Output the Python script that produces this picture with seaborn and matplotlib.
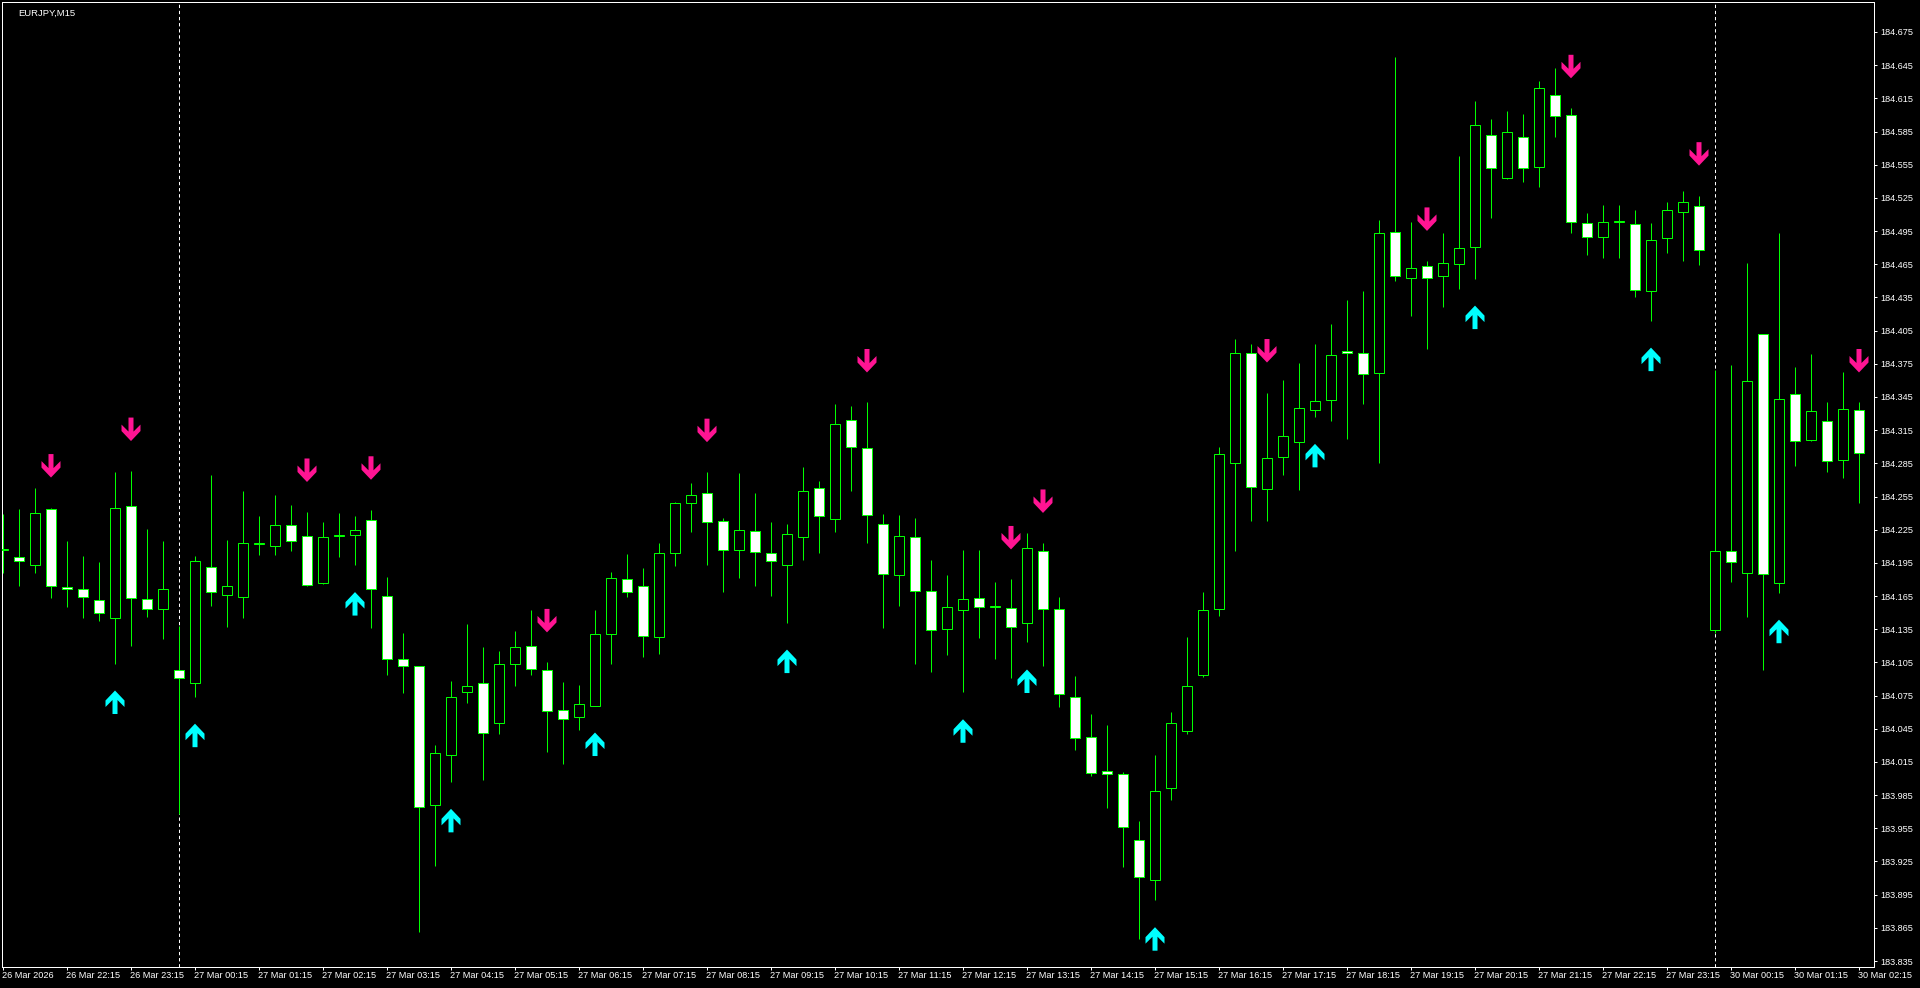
import numpy as np
import pandas as pd
import matplotlib
matplotlib.use("Agg")
import matplotlib.pyplot as plt
from matplotlib.path import Path
from matplotlib.markers import MarkerStyle
from matplotlib.transforms import ScaledTranslation
import seaborn as sns

# ---------------- data ----------------
symbol_label = "EURJPY,M15"

open_ = [184.207, 184.200, 184.193, 184.244, 184.173, 184.171, 184.161, 184.145, 184.246, 184.162,
         184.153, 184.098, 184.086, 184.191, 184.166, 184.164, 184.212, 184.210, 184.229, 184.219,
         184.177, 184.219, 184.220, 184.234, 184.165, 184.108, 184.102, 183.976, 184.021, 184.078,
         184.086, 184.050, 184.104, 184.120, 184.098, 184.062, 184.056, 184.066, 184.131, 184.180,
         184.174, 184.128, 184.204, 184.249, 184.258, 184.233, 184.207, 184.224, 184.204, 184.193,
         184.218, 184.263, 184.235, 184.324, 184.299, 184.230, 184.184, 184.218, 184.170, 184.135,
         184.152, 184.163, 184.155, 184.154, 184.141, 184.206, 184.153, 184.074, 184.038, 184.007,
         184.004, 183.944, 183.908, 183.991, 184.043, 184.094, 184.153, 184.285, 184.385, 184.262,
         184.291, 184.304, 184.333, 184.342, 184.387, 184.385, 184.367, 184.494, 184.453, 184.463,
         184.454, 184.465, 184.481, 184.582, 184.543, 184.580, 184.553, 184.618, 184.600, 184.502,
         184.490, 184.503, 184.501, 184.441, 184.489, 184.512, 184.518, 184.134, 184.206, 184.186,
         184.402, 184.177, 184.348, 184.306, 184.323, 184.288, 184.333]

high = [184.239, 184.244, 184.263, 184.245, 184.215, 184.201, 184.196, 184.277, 184.278, 184.226,
        184.215, 184.138, 184.201, 184.274, 184.216, 184.260, 184.237, 184.256, 184.247, 184.241,
        184.232, 184.240, 184.237, 184.243, 184.182, 184.132, 184.102, 184.030, 184.088, 184.140,
        184.119, 184.115, 184.133, 184.152, 184.105, 184.087, 184.085, 184.152, 184.187, 184.203,
        184.190, 184.213, 184.250, 184.267, 184.277, 184.236, 184.276, 184.258, 184.232, 184.230,
        184.282, 184.269, 184.339, 184.337, 184.340, 184.239, 184.238, 184.236, 184.198, 184.184,
        184.207, 184.207, 184.178, 184.180, 184.222, 184.213, 184.164, 184.093, 184.058, 184.048,
        184.006, 183.962, 184.021, 184.060, 184.128, 184.169, 184.300, 184.397, 184.393, 184.349,
        184.360, 184.376, 184.393, 184.411, 184.433, 184.441, 184.505, 184.652, 184.503, 184.468,
        184.493, 184.563, 184.613, 184.596, 184.604, 184.601, 184.631, 184.642, 184.606, 184.511,
        184.519, 184.519, 184.514, 184.502, 184.521, 184.531, 184.527, 184.369, 184.374, 184.466,
        184.402, 184.493, 184.372, 184.384, 184.340, 184.368, 184.340]

low = [184.186, 184.174, 184.186, 184.163, 184.155, 184.145, 184.142, 184.104, 184.120, 184.146,
       184.126, 183.968, 184.074, 184.156, 184.137, 184.145, 184.202, 184.202, 184.206, 184.174,
       184.176, 184.200, 184.193, 184.136, 184.094, 184.077, 183.861, 183.921, 183.997, 184.068,
       183.999, 184.040, 184.084, 184.094, 184.024, 184.013, 184.044, 184.066, 184.104, 184.164,
       184.110, 184.113, 184.192, 184.223, 184.193, 184.169, 184.181, 184.174, 184.165, 184.141,
       184.198, 184.204, 184.223, 184.260, 184.213, 184.136, 184.156, 184.104, 184.096, 184.112,
       184.078, 184.127, 184.108, 184.091, 184.123, 184.102, 184.065, 184.026, 184.002, 183.973,
       183.920, 183.855, 183.890, 183.981, 184.040, 184.092, 184.147, 184.206, 184.233, 184.233,
       184.274, 184.261, 184.327, 184.323, 184.307, 184.339, 184.285, 184.450, 184.418, 184.388,
       184.426, 184.443, 184.452, 184.507, 184.542, 184.539, 184.535, 184.580, 184.493, 184.473,
       184.471, 184.471, 184.435, 184.414, 184.475, 184.468, 184.464, 184.132, 184.178, 184.146,
       184.098, 184.168, 184.283, 184.305, 184.277, 184.272, 184.249]

close = [184.207, 184.197, 184.240, 184.174, 184.171, 184.164, 184.150, 184.245, 184.163, 184.153,
         184.171, 184.091, 184.197, 184.169, 184.174, 184.213, 184.212, 184.229, 184.215, 184.175,
         184.218, 184.219, 184.225, 184.171, 184.108, 184.102, 183.974, 184.023, 184.074, 184.084,
         184.041, 184.104, 184.119, 184.099, 184.061, 184.054, 184.067, 184.131, 184.181, 184.169,
         184.129, 184.204, 184.249, 184.256, 184.232, 184.207, 184.225, 184.205, 184.197, 184.221,
         184.260, 184.237, 184.321, 184.300, 184.238, 184.185, 184.219, 184.170, 184.134, 184.155,
         184.162, 184.155, 184.155, 184.137, 184.208, 184.153, 184.076, 184.037, 184.005, 184.004,
         183.956, 183.911, 183.989, 184.050, 184.084, 184.152, 184.293, 184.385, 184.264, 184.290,
         184.310, 184.335, 184.341, 184.383, 184.385, 184.366, 184.493, 184.454, 184.462, 184.453,
         184.466, 184.480, 184.591, 184.552, 184.585, 184.552, 184.624, 184.599, 184.503, 184.490,
         184.503, 184.503, 184.442, 184.487, 184.514, 184.521, 184.478, 184.206, 184.196, 184.359,
         184.185, 184.343, 184.305, 184.332, 184.287, 184.334, 184.294]

# bar indices carrying a sell (down) / buy (up) signal arrow
sell_signals = [3, 8, 19, 23, 34, 44, 54, 63, 65, 79, 89, 98, 106, 116]
buy_signals = [7, 12, 22, 28, 37, 49, 60, 64, 72, 82, 92, 103, 111]

# trading sessions (M15 bars)
session_starts = ["2026-03-26 21:15", "2026-03-30 00:00"]
session_lengths = [107, 10]

x_tick_labels = ["26 Mar 2026", "26 Mar 22:15", "26 Mar 23:15", "27 Mar 00:15", "27 Mar 01:15",
                 "27 Mar 02:15", "27 Mar 03:15", "27 Mar 04:15", "27 Mar 05:15", "27 Mar 06:15",
                 "27 Mar 07:15", "27 Mar 08:15", "27 Mar 09:15", "27 Mar 10:15", "27 Mar 11:15",
                 "27 Mar 12:15", "27 Mar 13:15", "27 Mar 14:15", "27 Mar 15:15", "27 Mar 16:15",
                 "27 Mar 17:15", "27 Mar 18:15", "27 Mar 19:15", "27 Mar 20:15", "27 Mar 21:15",
                 "27 Mar 22:15", "27 Mar 23:15", "30 Mar 00:15", "30 Mar 01:15", "30 Mar 02:15"]

y_ticks = [183.835, 183.865, 183.895, 183.925, 183.955, 183.985, 184.015, 184.045, 184.075,
           184.105, 184.135, 184.165, 184.195, 184.225, 184.255, 184.285, 184.315, 184.345,
           184.375, 184.405, 184.435, 184.465, 184.495, 184.525, 184.555, 184.585, 184.615,
           184.645, 184.675]

# ---------------- style ----------------
GREEN = "#00FF00"
PINK = "#FF1493"
CYAN = "#00FFFF"
WHITE = "#FFFFFF"
W, H, DPI = 1920, 988, 100
PX = 72.0 / DPI  # points per pixel

sns.set_style("dark")
plt.rcParams.update({
    "figure.facecolor": "black",
    "axes.facecolor": "black",
    "savefig.facecolor": "black",
    "text.color": WHITE,
    "xtick.color": WHITE,
    "ytick.color": WHITE,
    "lines.scale_dashes": False,
})
plt.rcParams["font.family"] = ["Liberation Sans", "DejaVu Sans"]

times = pd.DatetimeIndex(np.concatenate([
    pd.date_range(s, periods=n, freq="15min").values
    for s, n in zip(session_starts, session_lengths)
]))
df = pd.DataFrame({"time": times, "open": open_, "high": high, "low": low, "close": close})
df["i"] = np.arange(len(df))

fig = plt.figure(figsize=(W / DPI, H / DPI), dpi=DPI)
ax_left, ax_bottom, ax_right, ax_top = 2, 21, 1874, 986
ax = fig.add_axes([ax_left / W, ax_bottom / H, (ax_right - ax_left) / W, (ax_top - ax_bottom) / H])
ax.set_facecolor("black")

bar_px = 16.0
x0 = -1.0 / bar_px
x1 = x0 + (ax_right - ax_left) / bar_px
ylo, yhi = 183.8296, 184.7021
price_per_px = (yhi - ylo) / (ax_top - ax_bottom)

# day separators
day_starts = df.index[(df.time.dt.hour == 0) & (df.time.dt.minute == 0)]
for d in day_starts:
    ax.axvline(d, color=WHITE, linewidth=PX, linestyle=(0, (2.4, 2.0)), zorder=1)

# wicks
ax.vlines(df.i, df.low, df.high, colors=GREEN, linewidth=PX, zorder=2)

# bodies
bottoms = np.minimum(df.open, df.close)
heights = np.abs(df.close - df.open)
heights = np.where(heights < price_per_px, price_per_px, heights)
fills = np.where(df.close < df.open, WHITE, "black")
ax.bar(df.i, heights, bottom=bottoms, width=0.6, color=fills, edgecolor=GREEN,
       linewidth=PX, zorder=3)

# signal arrows
down_verts = [(0, 0), (9.5, 10), (9.5, 16.5), (2.5, 9.5), (2.5, 23.5), (-2.5, 23.5),
              (-2.5, 9.5), (-9.5, 16.5), (-9.5, 10), (0, 0)]
down_path = Path(down_verts, closed=True)
up_path = Path([(x, -y) for x, y in down_verts], closed=True)
arrow_size = (47 * PX) ** 2

sell_df = df.loc[sell_signals].copy()
sell_df["y"] = sell_df["high"] + 30 * price_per_px
buy_df = df.loc[buy_signals].copy()
buy_df["y"] = buy_df["low"] - 27 * price_per_px

sns.scatterplot(data=sell_df, x="i", y="y", marker=MarkerStyle(down_path), s=arrow_size,
                color=PINK, edgecolor="none", linewidth=0, ax=ax, zorder=5, legend=False)
sns.scatterplot(data=buy_df, x="i", y="y", marker=MarkerStyle(up_path), s=arrow_size,
                color=CYAN, edgecolor="none", linewidth=0, ax=ax, zorder=5, legend=False)

# axes
ax.set_xlim(x0, x1)
ax.set_ylim(ylo, yhi)
ax.set_xlabel("")
ax.set_ylabel("")
ax.grid(False)
for sp in ax.spines.values():
    sp.set_visible(True)
    sp.set_color(WHITE)
    sp.set_linewidth(PX)

tick_pos = list(df.index[df.time.dt.minute == 15])[:len(x_tick_labels)]
ax.set_xticks(tick_pos)
ax.set_xticklabels(x_tick_labels)
ax.tick_params(axis="x", direction="out", length=3 * PX, width=PX, pad=1.0 * PX,
               labelsize=6.6, colors=WHITE, bottom=True)
off = ScaledTranslation(-1.0 / DPI, 0, fig.dpi_scale_trans)
for lbl in ax.get_xticklabels():
    lbl.set_horizontalalignment("left")
    lbl.set_transform(lbl.get_transform() + off)

ax.yaxis.tick_right()
ax.set_yticks(y_ticks)
ax.set_yticklabels([f"{v:.3f}" for v in y_ticks])
ax.tick_params(axis="y", direction="out", length=3 * PX, width=PX, pad=3 * PX,
               labelsize=6.6, colors=WHITE, right=True, left=False)

fig.text(18 / W, 1 - 9.0 / H, symbol_label, ha="left", va="top", fontsize=6.8, color=WHITE)

fig.savefig("out.png", dpi=DPI, facecolor="black")
